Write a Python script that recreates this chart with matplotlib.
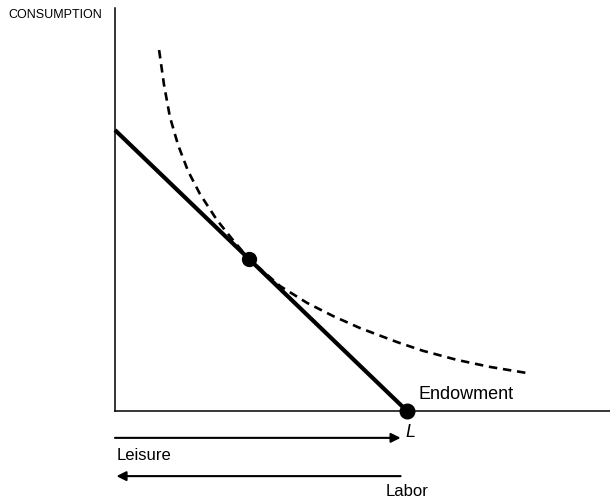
import matplotlib
matplotlib.use("Agg")
import matplotlib.pyplot as plt

plt.rcParams['font.family'] = ['Liberation Sans', 'DejaVu Sans']

# endowment of time and the budget line through it
endowment_L = 10.0
budget_intercept = 9.62
budget_leisure = [0.0, endowment_L]
budget_consumption = [budget_intercept, 0.0]

# chosen bundle (tangency)
opt_leisure = 4.59
opt_consumption = 5.20

# indifference curve through the chosen bundle
ic_leisure = [1.51, 1.68, 1.88, 2.16, 2.50, 2.91, 3.49, 4.01, 4.59, 5.65,
              6.58, 7.47, 8.39, 9.66, 10.55, 11.71, 12.84, 14.11]
ic_consumption = [12.36, 11.16, 10.07, 9.11, 8.22, 7.43, 6.54, 5.89, 5.20, 4.28,
                  3.70, 3.25, 2.84, 2.36, 2.06, 1.75, 1.51, 1.30]

fig = plt.figure(figsize=(6.10, 5.01), dpi=100)
ax = fig.add_axes([115 / 610, 90 / 501, 495 / 610, 403 / 501])
ax.set_xlim(0, 16.95)
ax.set_ylim(0, 13.8)
for side in ['top', 'right']:
    ax.spines[side].set_visible(False)
for side in ['left', 'bottom']:
    ax.spines[side].set_linewidth(1.1)
ax.set_xticks([])
ax.set_yticks([])

ax.plot(ic_leisure, ic_consumption, color='black', lw=1.9,
        linestyle=(0, (3.2, 2.2)), clip_on=False)
ax.plot(budget_leisure, budget_consumption, color='black', lw=3,
        solid_capstyle='butt', clip_on=False)
ax.plot([opt_leisure], [opt_consumption], 'o', color='black', ms=10, clip_on=False)
ax.plot([endowment_L], [0], 'o', color='black', ms=10.5, clip_on=False, zorder=5)

ax.text(endowment_L + 0.38, 0.55, 'Endowment', fontsize=13, va='center', ha='left')
ax.text(endowment_L + 0.1, -0.72, 'L', fontsize=13, style='italic',
        va='center', ha='center')

# leisure measured rightward from the origin, labor leftward from L
arrow_kw = dict(arrowstyle='-|>', color='black', lw=1.5,
                mutation_scale=14, shrinkA=0, shrinkB=0)
ax.annotate('', xy=(9.78, -0.92), xytext=(0, -0.92),
            arrowprops=arrow_kw, annotation_clip=False)
ax.annotate('', xy=(0.05, -2.23), xytext=(9.78, -2.23),
            arrowprops=arrow_kw, annotation_clip=False)
ax.text(0.07, -1.51, 'Leisure', fontsize=12, va='center', ha='left')
ax.text(10.72, -2.77, 'Labor', fontsize=12, va='center', ha='right')

fig.text(8 / 610, 1 - 15 / 501, 'CONSUMPTION', fontsize=9, va='center', ha='left')

fig.savefig('out.png', dpi=100)
